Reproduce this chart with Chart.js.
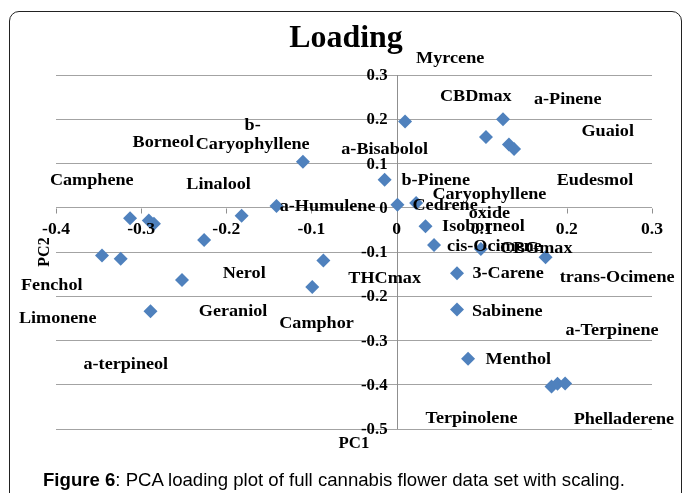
<!DOCTYPE html>
<html>
<head>
<meta charset="utf-8">
<script src="https://cdn.jsdelivr.net/npm/chart.js@4.4.0/dist/chart.umd.min.js"></script>
<style>
  html, body { margin: 0; padding: 0; background: #fff; }
  #wrap { position: relative; width: 683px; height: 493px; overflow: hidden; }
  #frame { position: absolute; left: 9px; top: 11px; width: 673px; height: 520px; border: 1.5px solid #222; border-radius: 10px; box-sizing: border-box; }
  #chart { position: absolute; left: 0; top: 0; }
  #caption { position: absolute; left: 43px; top: 469px; font: 18.6px "Liberation Sans", Arial, sans-serif; color: #000; white-space: nowrap; line-height: 22px; }
</style>
</head>
<body>
<div id="wrap">
  <div id="frame"></div>
  <canvas id="chart" width="683" height="493"></canvas>
  <div id="caption"><b>Figure 6</b>: PCA loading plot of full cannabis flower data set with scaling.</div>
</div>
<script>
// PCA loadings
const pc1 = [0.010, 0.125, 0.105, 0.132, 0.138, -0.110, -0.014, -0.141, 0.001, 0.023,
             -0.313, -0.291, -0.285, -0.182, 0.034, -0.226, 0.044, 0.099, 0.175, 0.071,
             -0.346, -0.324, -0.086, -0.252, -0.099, -0.289, 0.071, 0.084, 0.182, 0.189, 0.198];
const pc2 = [0.195, 0.200, 0.160, 0.143, 0.133, 0.104, 0.063, 0.004, 0.007, 0.011,
             -0.024, -0.029, -0.036, -0.018, -0.042, -0.073, -0.084, -0.093, -0.112, -0.148,
             -0.108, -0.115, -0.119, -0.163, -0.179, -0.234, -0.230, -0.341, -0.404, -0.398, -0.397];

// data labels, where Excel left them (in data units)
const names = ['Myrcene', 'CBDmax', 'a-Pinene', 'Guaiol', 'b-\nCaryophyllene', 'Borneol', 'a-Bisabolol',
               'Camphene', 'Linalool', 'b-Pinene', 'Eudesmol', 'Caryophyllene\noxide', 'a-Humulene',
               'Cedrene', 'Isoborneol', 'cis-Ocimene', 'CBGmax', 'trans-Ocimene', '3-Carene', 'THCmax',
               'Nerol', 'Fenchol', 'Limonene', 'Geraniol', 'Camphor', 'Sabinene', 'a-Terpinene',
               'a-terpineol', 'Menthol', 'Terpinolene', 'Phelladerene'];
const nameX = [0.063, 0.093, 0.201, 0.248, -0.169, -0.274, -0.014, -0.358, -0.209, 0.046, 0.233,
               0.109, -0.081, 0.057, 0.102, 0.115, 0.164, 0.259, 0.131, -0.014, -0.179, -0.405,
               -0.398, -0.192, -0.094, 0.130, 0.253, -0.318, 0.143, 0.088, 0.267];
const nameY = [0.336, 0.250, 0.245, 0.172, 0.164, 0.148, 0.130, 0.060, 0.053, 0.062, 0.060,
               0.007, 0.002, 0.004, -0.044, -0.088, -0.093, -0.159, -0.150, -0.161, -0.148, -0.177,
               -0.250, -0.234, -0.263, -0.234, -0.278, -0.354, -0.343, -0.477, -0.480];

const xTicks = [-0.4, -0.3, -0.2, -0.1, 0, 0.1, 0.2, 0.3];
const yTicks = [0.3, 0.2, 0.1, 0, -0.1, -0.2, -0.3, -0.4, -0.5];

const serif = '"Liberation Serif", "Times New Roman", serif';

// the pasted Excel picture is a bit wider than tall, so stretch text sideways
function stretchText(ctx, text, x, y, sx) {
    ctx.save();
    ctx.translate(x, y);
    ctx.scale(sx, 1);
    ctx.fillText(text, 0, 0);
    ctx.restore();
}

// axes cross at the origin, labels drawn by hand
const crossAxes = {
    id: 'crossAxes',
    beforeDatasetsDraw(chart) {
        const { ctx, scales: { x, y } } = chart;
        const x0 = Math.round(x.getPixelForValue(0)) + 0.5;
        const y0 = Math.round(y.getPixelForValue(0)) + 0.5;
        ctx.save();
        ctx.strokeStyle = '#8f8f8f';
        ctx.lineWidth = 1;
        ctx.beginPath();
        ctx.moveTo(x0, y.top);
        ctx.lineTo(x0, y.bottom);
        xTicks.forEach(v => {
            const px = Math.round(x.getPixelForValue(v)) + 0.5;
            ctx.moveTo(px, y0);
            ctx.lineTo(px, y0 + 5);
        });
        ctx.stroke();
        ctx.restore();
    },
    afterDatasetsDraw(chart) {
        const { ctx, scales: { x, y }, chartArea } = chart;
        const x0 = x.getPixelForValue(0);
        const y0 = y.getPixelForValue(0);
        ctx.save();
        ctx.fillStyle = '#000';
        ctx.textBaseline = 'middle';

        // tick labels
        ctx.font = 'bold 16px ' + serif;
        ctx.textAlign = 'center';
        xTicks.forEach(v => stretchText(ctx, String(v), x.getPixelForValue(v), y0 + 22, 1.1));
        ctx.textAlign = 'right';
        yTicks.forEach(v => stretchText(ctx, String(v), x0 - 9, y.getPixelForValue(v) + 1, 1.05));

        // point names
        ctx.font = 'bold 16.5px ' + serif;
        ctx.textAlign = 'center';
        names.forEach((n, i) => {
            const lines = n.split('\n');
            const cx = x.getPixelForValue(nameX[i]);
            const cy = y.getPixelForValue(nameY[i]);
            lines.forEach((l, j) => stretchText(ctx, l, cx, cy + (j - (lines.length - 1) / 2) * 19, 1.1));
        });

        // title and axis titles
        ctx.font = 'bold 31px ' + serif;
        stretchText(ctx, 'Loading', 346, 39, 1.03);
        ctx.font = 'bold 16px ' + serif;
        stretchText(ctx, 'PC1', (chartArea.left + chartArea.right) / 2, chartArea.bottom + 15, 1.05);
        ctx.translate(45, (chartArea.top + chartArea.bottom) / 2);
        ctx.rotate(-Math.PI / 2);
        ctx.fillText('PC2', 0, 0);
        ctx.restore();
    }
};

const ctx = document.getElementById('chart').getContext('2d');
new Chart(ctx, {
    type: 'scatter',
    data: {
        datasets: [{
            data: pc1.map((v, i) => ({ x: v, y: pc2[i] })),
            pointStyle: 'rectRot',
            pointRadius: 7,
            backgroundColor: '#4F81BD',
            borderColor: '#4F81BD',
            borderWidth: 0
        }]
    },
    options: {
        responsive: false,
        animation: false,
        devicePixelRatio: 1,
        layout: { padding: { left: 56, right: 31, top: 75, bottom: 56 } },
        plugins: { legend: { display: false }, tooltip: { enabled: false } },
        scales: {
            x: {
                type: 'linear', min: -0.4, max: 0.3,
                ticks: { display: false, stepSize: 0.1 },
                grid: { display: false },
                border: { display: false }
            },
            y: {
                type: 'linear', min: -0.5, max: 0.3,
                ticks: { display: false, stepSize: 0.1 },
                grid: { color: '#a3a3a3', drawTicks: false },
                border: { display: false }
            }
        }
    },
    plugins: [crossAxes]
});
</script>
</body>
</html>
